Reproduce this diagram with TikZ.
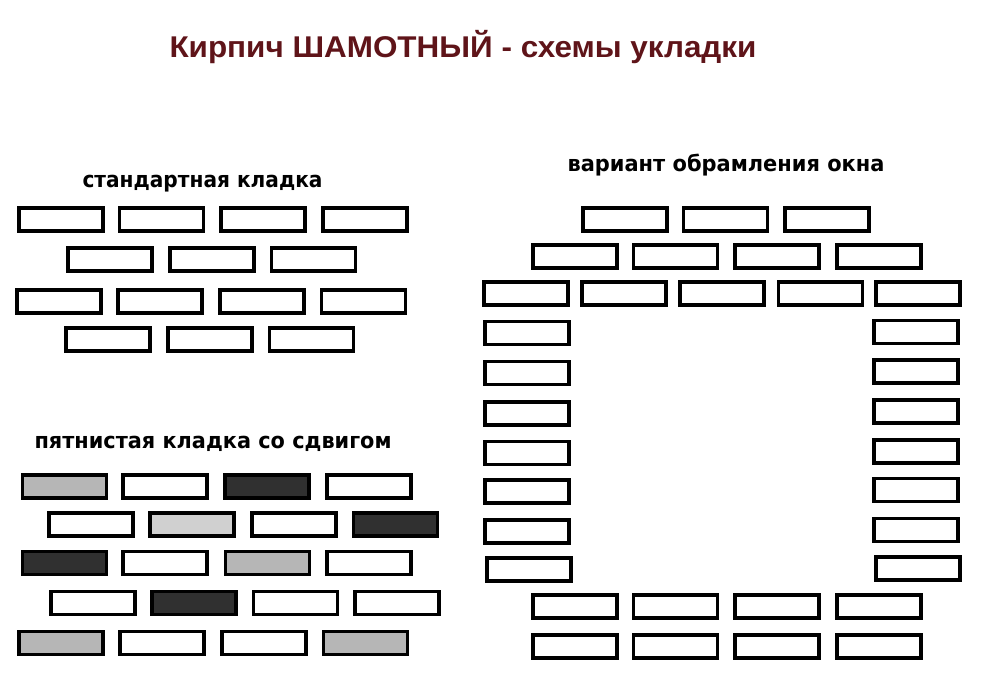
\documentclass[tikz,border=0pt]{standalone}
\usepackage{fontspec}
\setmainfont{DejaVu Sans}
\newfontfamily\titlefont{Liberation Sans}
\usepackage{graphicx}
\definecolor{titlered}{RGB}{95,20,25}
\definecolor{greyA}{RGB}{182,182,182}
\definecolor{greyL}{RGB}{208,208,208}
\definecolor{darkB}{RGB}{48,48,48}
\begin{document}
\begin{tikzpicture}[x=1pt,y=-1pt,
  brick/.style={draw=black, line width=3.9pt, fill=white, minimum width=84pt, minimum height=23pt, inner sep=0pt, outer sep=0pt},
  gA/.style={brick, fill=greyA},
  gL/.style={brick, fill=greyL},
  dk/.style={brick, fill=darkB},
  lbl/.style={anchor=base west, inner sep=0pt, font=\bfseries\fontsize{22}{26}\selectfont}]
\fill[white] (0,0) rectangle (982,680);
\useasboundingbox (0,0) rectangle (982,680);

% title
\node[anchor=base west, inner sep=0pt, text=titlered] (title) at (169.3,57)
  {\resizebox{587pt}{\height}{\titlefont\bfseries\fontsize{30}{33}\selectfont Кирпич ШАМОТНЫЙ - схемы укладки}};

% labels
\node[lbl] (labA) at (82.3,187) {\resizebox{240pt}{\height}{стандартная кладка}};
\node[lbl] (labB) at (34.3,448.6) {\resizebox{357pt}{\height}{пятнистая кладка со сдвигом}};
\node[lbl] (labC) at (567.3,171.6) {\resizebox{317pt}{\height}{вариант обрамления окна}};

% standard bond
\foreach \x [count=\i] in {60.8,161.5,263.2,365.2} \node[brick] (sa\i) at (\x,219.7) {};
\foreach \x [count=\i] in {110.2,211.8,313.5} \node[brick] (sb\i) at (\x,259.7) {};
\foreach \x [count=\i] in {59,160.2,262,363.5} \node[brick] (sc\i) at (\x,301.2) {};
\foreach \x [count=\i] in {108.2,210,311.5} \node[brick] (sd\i) at (\x,339.7) {};

% spotted bond
\node[gA] (pa1) at (64.5,486.7) {};
\node[brick] (pa2) at (165.2,486.7) {};
\node[dk] (pa3) at (267,486.7) {};
\node[brick] (pa4) at (368.7,486.7) {};
\node[brick] (pb1) at (91.3,524.7) {};
\node[gL] (pb2) at (192,524.7) {};
\node[brick] (pb3) at (293.8,524.7) {};
\node[dk] (pb4) at (395.5,524.7) {};
\node[dk] (pc1) at (64.5,563) {};
\node[brick] (pc2) at (165.2,563) {};
\node[gA] (pc3) at (267.5,563) {};
\node[brick] (pc4) at (368.7,563) {};
\node[brick] (pd1) at (92.8,603) {};
\node[dk] (pd2) at (193.8,603) {};
\node[brick] (pd3) at (295.5,603) {};
\node[brick] (pd4) at (397.2,603) {};
\node[gA] (pe1) at (61.2,643) {};
\node[brick] (pe2) at (162,643) {};
\node[brick] (pe3) at (263.7,643) {};
\node[gA] (pe4) at (365.5,643) {};

% window framing
\foreach \x [count=\i] in {624.7,725.5,827.2} \node[brick] (wa\i) at (\x,219.7) {};
\foreach \x [count=\i] in {574.8,675.5,777.2,878.8} \node[brick] (wb\i) at (\x,256.7) {};
\foreach \x [count=\i] in {526.3,623.8,722.2,820.5,917.7} \node[brick] (wc\i) at (\x,293.3) {};
\foreach \y [count=\i] in {333,373,413.3,453,491.3,531.3} \node[brick] (wl\i) at (527.2,\y) {};
\node[brick] (wl7) at (528.7,569.7) {};
\foreach \y [count=\i] in {332,371.7,411.7,451.7,490,530} \node[brick] (wr\i) at (916.2,\y) {};
\node[brick] (wr7) at (917.7,568.3) {};
\foreach \x [count=\i] in {574.8,675.5,777.2,879.2} \node[brick] (wd\i) at (\x,606.3) {};
\foreach \x [count=\i] in {574.8,675.5,777.2,879.2} \node[brick] (we\i) at (\x,646.3) {};
\end{tikzpicture}
\end{document}
